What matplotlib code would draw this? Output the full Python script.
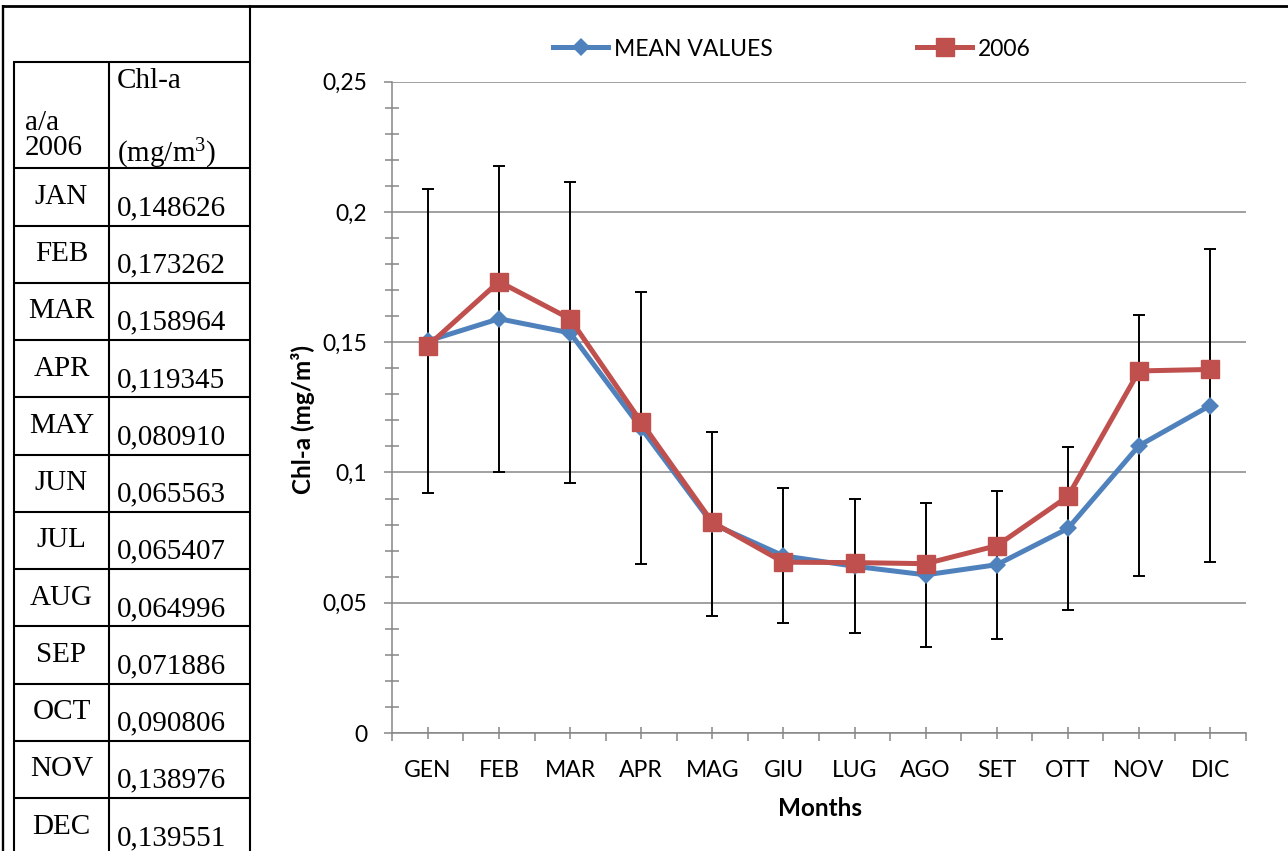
import matplotlib
matplotlib.use("Agg")
import matplotlib.pyplot as plt
from matplotlib.ticker import MultipleLocator, FixedLocator, FuncFormatter
import numpy as np

plt.rcParams["mathtext.fontset"] = "custom"
plt.rcParams["mathtext.rm"] = "Liberation Serif"
plt.rcParams["mathtext.it"] = "Liberation Serif:italic"

# Monthly chlorophyll-a (mg/m3)
months_it = ["GEN", "FEB", "MAR", "APR", "MAG", "GIU", "LUG", "AGO", "SET", "OTT", "NOV", "DIC"]
months_en = ["JAN", "FEB", "MAR", "APR", "MAY", "JUN", "JUL", "AUG", "SEP", "OCT", "NOV", "DEC"]
chl_2006 = [0.148626, 0.173262, 0.158964, 0.119345, 0.080910, 0.065563,
            0.065407, 0.064996, 0.071886, 0.090806, 0.138976, 0.139551]
chl_mean = [0.1505, 0.1590, 0.1536, 0.1170, 0.0803, 0.0680,
            0.0640, 0.0607, 0.0646, 0.0785, 0.1103, 0.1257]
chl_sd = [0.0582, 0.0588, 0.0578, 0.0522, 0.0353, 0.0259,
          0.0258, 0.0276, 0.0284, 0.0313, 0.0500, 0.0600]
y_ticks = [0, 0.05, 0.10, 0.15, 0.20, 0.25]

W, H = 1288, 851
fig = plt.figure(figsize=(W / 100, H / 100), dpi=100)


def fx(px):
    return px / W


def fy(py):
    return 1 - py / H


BLUE = "#4F81BD"
RED = "#C0504D"
GRID = "#868686"
SANS = "Lato"
SERIF = "Liberation Serif"

# ---------------- chart ----------------
ax = fig.add_axes([fx(392.3), fy(733), fx(1245.7) - fx(392.3), fy(81.7) - fy(733)])
x = np.arange(1, len(months_it) + 1)

ax.errorbar(x, chl_mean, yerr=chl_sd, fmt="none", ecolor="black",
            elinewidth=1.4, capsize=4, capthick=1.4, zorder=2)
ax.plot(x, chl_mean, color=BLUE, lw=3.6, marker="D", markersize=9.5,
        markeredgewidth=0, label="MEAN VALUES", zorder=3, solid_joinstyle="round")
ax.plot(x, chl_2006, color=RED, lw=3.6, marker="s", markersize=13.5,
        markeredgewidth=1, markeredgecolor=RED, label="2006", zorder=4,
        solid_joinstyle="round")

ax.set_xlim(0.5, len(months_it) + 0.5)
ax.set_ylim(0, 0.25)

ax.yaxis.set_major_locator(FixedLocator(y_ticks))
ax.yaxis.set_minor_locator(MultipleLocator(0.01))
ax.yaxis.set_major_formatter(FuncFormatter(lambda v, p: f"{v:g}".replace(".", ",")))
ax.grid(axis="y", which="major", color=GRID, lw=1.1)
ax.set_axisbelow(True)

ax.set_xticks(x)
ax.set_xticklabels(months_it)
ax.xaxis.set_minor_locator(FixedLocator(np.arange(0.5, len(months_it) + 1, 1.0)))

for side in ["top", "right"]:
    ax.spines[side].set_visible(False)
for side in ["left", "bottom"]:
    ax.spines[side].set_color(GRID)
    ax.spines[side].set_linewidth(1.1)

ax.tick_params(axis="x", which="major", direction="inout", length=8.4, width=1.1,
               color=GRID, pad=15, labelsize=16.5)
ax.tick_params(axis="x", which="minor", direction="out", length=6, width=1.1, color=GRID)
ax.tick_params(axis="y", which="major", direction="out", length=6, width=1.1,
               color=GRID, pad=12, labelsize=16.5)
ax.tick_params(axis="y", which="minor", direction="inout", length=9.4, width=1.1, color=GRID)
for lab in ax.get_xticklabels() + ax.get_yticklabels():
    lab.set_fontfamily(SANS)

fig.text(fx(303), fy(420), "Chl-a (mg/m³)", rotation=90, ha="center", va="center",
         fontsize=17.5, fontweight="bold", family=SANS)
fig.text(fx(820), fy(808), "Months", ha="center", va="center",
         fontsize=17.5, fontweight="bold", family=SANS)

leg = ax.legend(loc="center", bbox_to_anchor=(fx(792), fy(49)),
                bbox_transform=fig.transFigure, ncol=2, frameon=False,
                handlelength=2.4, handletextpad=0.25, columnspacing=6.3,
                borderpad=0, numpoints=1, prop={"family": SANS, "size": 16.5})

# ---------------- side table ----------------
tab = fig.add_axes([0, 0, 1, 1], zorder=-1)
tab.set_xlim(0, W)
tab.set_ylim(H, 0)
tab.axis("off")

LW = 1.5


def hline(y, x0, x1, lw=LW):
    tab.plot([x0, x1], [y, y], color="black", lw=lw, solid_capstyle="butt")


def vline(xv, y0, y1, lw=LW):
    tab.plot([xv, xv], [y0, y1], color="black", lw=lw, solid_capstyle="butt")


hline(5.5, 2.5, W, lw=2)
vline(3.5, 4.5, H, lw=1.7)
vline(250, 4.5, H)
vline(14, 62, H)
vline(109, 62, H)
hline(62, 13, 251)

row_top = 168.3
row_h = 57.25
hline(row_top, 13, 251)
for i in range(len(months_en)):
    yb = row_top + (i + 1) * row_h
    if i < len(months_en) - 1:
        hline(yb, 13, 251)
    yc = row_top + i * row_h
    tab.text(61.5, yc + 28.5, months_en[i], ha="center", va="center",
             fontsize=21, family=SERIF)
    tab.text(117, yc + 40, f"{chl_2006[i]:.6f}".replace(".", ","), ha="left",
             va="center", fontsize=21, family=SERIF)

tab.text(25, 123, "a/a", ha="left", va="center", fontsize=21, family=SERIF)
tab.text(25, 148, "2006", ha="left", va="center", fontsize=21, family=SERIF)
tab.text(117, 81, "Chl-a", ha="left", va="center", fontsize=21, family=SERIF)
tab.text(117, 162, r"(mg/m$^\mathrm{3}$)", ha="left", va="baseline", fontsize=21,
         family=SERIF)

fig.savefig("out.png", dpi=100)
